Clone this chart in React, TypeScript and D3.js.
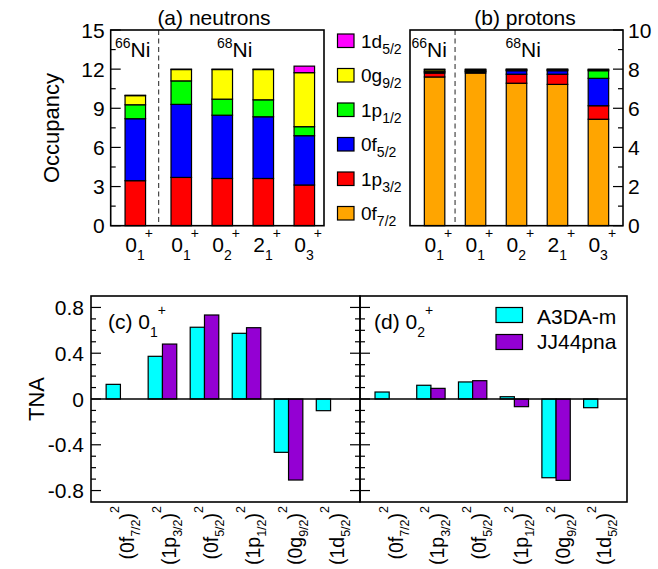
import React from 'react';
import * as d3 from 'd3';

const FONT = '"Liberation Sans", Arial, Helvetica, sans-serif';

// ---- Top panels: occupancies ----
const stateSpin = ['0', '0', '0', '2', '0'];
const stateIndex = ['1', '1', '2', '1', '3'];
const xPosN = [1.0, 2.12, 3.12, 4.12, 5.12];
const xPosP = [1, 2, 3, 4, 5];
const dividerN = 1.57;
const dividerP = 1.5;

const orbitalKeys = ['0f72', '1p32', '0f52', '1p12', '0g92', '1d52'];
const orbitalMain = ['0f', '1p', '0f', '1p', '0g', '1d'];
const orbitalSub = ['7/2', '3/2', '5/2', '1/2', '9/2', '5/2'];
const orbitalColors = ['#ffa500', '#ff0000', '#0000ff', '#00ff00', '#ffff00', '#ff00ff'];

const neut0f72 = [0, 0, 0, 0, 0];
const neut1p32 = [3.45, 3.7, 3.62, 3.62, 3.12];
const neut0f52 = [4.75, 5.6, 4.85, 4.73, 3.78];
const neut1p12 = [1.07, 1.8, 1.23, 1.3, 0.69];
const neut0g92 = [0.7, 0.87, 2.27, 2.32, 4.14];
const neut1d52 = [0.03, 0.03, 0.03, 0.03, 0.5];

const prot0f72 = [7.6, 7.8, 7.28, 7.22, 5.44];
const prot1p32 = [0.2, 0.06, 0.46, 0.52, 0.69];
const prot0f52 = [0.05, 0.03, 0.18, 0.18, 1.4];
const prot1p12 = [0.04, 0.03, 0.03, 0.03, 0.39];
const prot0g92 = [0.08, 0.06, 0.04, 0.04, 0.05];
const prot1d52 = [0.03, 0.02, 0.01, 0.01, 0.03];

const ticksN = [0, 3, 6, 9, 12, 15];
const ticksP = [0, 2, 4, 6, 8, 10];

// ---- Bottom panels: TNA ----
const tnaMain = ['0f', '1p', '0f', '1p', '0g', '1d'];
const tnaSub = ['7/2', '3/2', '5/2', '1/2', '9/2', '5/2'];
const tnaPos = [1, 2, 3, 4, 5, 6];
const tnaC_A3DA = [0.128, 0.373, 0.627, 0.574, -0.466, -0.102];
const tnaC_JJ44 = [0, 0.48, 0.734, 0.623, -0.708, 0];
const tnaD_A3DA = [0.061, 0.12, 0.149, 0.02, -0.688, -0.076];
const tnaD_JJ44 = [0, 0.093, 0.16, -0.067, -0.711, 0];
const tnaTicks = [-0.8, -0.4, 0, 0.4, 0.8];
const modelNames = ['A3DA-m', 'JJ44pna'];
const modelColors = ['#00ffff', '#9400d3'];

type Piece = { t: string; k?: 'sub' | 'sup' };

function Rich(props: {
  x?: number; y?: number; pieces: Piece[]; size: number; small?: number;
  subDy?: number; supDy?: number; anchor?: string; transform?: string;
}) {
  const { x = 0, y = 0, pieces, size, small = 14, subDy = 7, supDy = -14, anchor = 'start', transform } = props;
  let cur = 0;
  return (
    <text x={x} y={y} fontSize={size} textAnchor={anchor} transform={transform} fontFamily={FONT} fill="#000">
      {pieces.map((p, i) => {
        const target = p.k === 'sub' ? subDy : p.k === 'sup' ? supDy : 0;
        const dy = target - cur;
        cur = target;
        return (
          <tspan key={i} dy={dy} fontSize={p.k ? small : size}>
            {p.t}
          </tspan>
        );
      })}
    </text>
  );
}

function StackPanel(props: {
  x0: number; x1: number; y0: number; y1: number; yMax: number;
  pos: number[]; values: number[][]; divider: number; ticks: number[];
  minorStep: number; side: 'left' | 'right'; title: string; titleX: number;
  ni66x: number; ni68x: number;
}) {
  const { x0, x1, y0, y1, yMax, pos, values, divider, ticks, minorStep, side, title, titleX, ni66x, ni68x } = props;
  const x = d3.scaleLinear().domain([0.4, 5.6]).range([x0, x1]);
  const y = d3.scaleLinear().domain([0, yMax]).range([y1, y0]);
  const rows = pos.map((_, i) => {
    const r: Record<string, number> = {};
    orbitalKeys.forEach((k, j) => (r[k] = values[j][i]));
    return r;
  });
  const stacked = d3.stack<Record<string, number>>().keys(orbitalKeys)(rows);
  const bw = x(1.5) - x(1);
  const minor = d3.range(0, yMax + 1e-9, minorStep);
  const tx = side === 'left' ? x0 : x1;
  const dir = side === 'left' ? 1 : -1;
  return (
    <g>
      {stacked.map((s, j) =>
        s.map((d, i) =>
          d[1] - d[0] > 0 ? (
            <rect key={`${j}-${i}`} x={x(pos[i]) - bw / 2} width={bw} y={y(d[1])} height={y(d[0]) - y(d[1])}
              fill={orbitalColors[j]} stroke="#000" strokeWidth={1.2} />
          ) : null
        )
      )}
      <line x1={x(divider)} x2={x(divider)} y1={y0} y2={y1} stroke="#222" strokeWidth={1} strokeDasharray="5,3.5" />
      {minor.map((v) => {
        const major = ticks.some((t) => Math.abs(t - v) < 1e-6);
        return <line key={v} x1={tx} x2={tx + dir * (major ? 10 : 5)} y1={y(v)} y2={y(v)} stroke="#000" strokeWidth={1.2} />;
      })}
      {ticks.map((t) => (
        <text key={t} x={side === 'left' ? x0 - 6 : x1 + 5} y={y(t) + 7.5} fontSize={21} fontFamily={FONT}
          textAnchor={side === 'left' ? 'end' : 'start'}>{t}</text>
      ))}
      <rect x={x0} y={y0} width={x1 - x0} height={y1 - y0} fill="none" stroke="#000" strokeWidth={1.6} />
      {pos.map((p, i) => (
        <Rich key={i} x={x(p) - 10} y={252} size={21} small={14} subDy={8} supDy={-14}
          pieces={[{ t: stateSpin[i] }, { t: stateIndex[i], k: 'sub' }, { t: '+', k: 'sup' }]} />
      ))}
      <Rich x={ni66x} y={57} size={21} small={14} supDy={-9} pieces={[{ t: '66', k: 'sup' }, { t: 'Ni' }]} />
      <Rich x={ni68x} y={57} size={21} small={14} supDy={-9} pieces={[{ t: '68', k: 'sup' }, { t: 'Ni' }]} />
      <text x={titleX} y={25} fontSize={21} fontFamily={FONT} textAnchor="middle">{title}</text>
    </g>
  );
}

function TnaPanel(props: {
  x0: number; x1: number; y0: number; y1: number; a: number[]; b: number[];
  leftLabels: boolean; rightTicks: boolean; label: string; stateSub: string; labelX: number;
}) {
  const { x0, x1, y0, y1, a, b, leftLabels, rightTicks, label, stateSub, labelX } = props;
  const x = d3.scaleLinear().domain([0.3, 6.7]).range([x0, x1]);
  const y = d3.scaleLinear().domain([-0.9, 0.9]).range([y1, y0]);
  const bw = x(1.34) - x(1);
  const minor = d3.range(-8, 9).map((v) => v / 10);
  const tick = (xx: number, dir: number) =>
    minor.map((v) => {
      const major = tnaTicks.some((t) => Math.abs(t - v) < 1e-6);
      return <line key={`${xx}-${v}`} x1={xx} x2={xx + dir * (major ? 10 : 5)} y1={y(v)} y2={y(v)} stroke="#000" strokeWidth={1.2} />;
    });
  const bar = (v: number, left: number, color: string, key: string) =>
    v === 0 ? null : (
      <rect key={key} x={left} width={bw} y={y(Math.max(0, v))} height={Math.abs(y(v) - y(0))} fill={color} stroke="#000" strokeWidth={1.2} />
    );
  return (
    <g>
      {tnaPos.map((p, i) => (
        <g key={i}>
          {bar(a[i], x(p) - bw, modelColors[0], 'a')}
          {bar(b[i], x(p), modelColors[1], 'b')}
        </g>
      ))}
      <line x1={x0} x2={x1} y1={y(0)} y2={y(0)} stroke="#000" strokeWidth={1.5} />
      {tick(x0, 1)}
      {rightTicks ? tick(x1, -1) : null}
      {leftLabels
        ? tnaTicks.map((t) => (
            <text key={t} x={x0 - 7} y={y(t) + 7.5} fontSize={21} fontFamily={FONT} textAnchor="end">{t}</text>
          ))
        : null}
      <rect x={x0} y={y0} width={x1 - x0} height={y1 - y0} fill="none" stroke="#000" strokeWidth={1.6} />
      {tnaPos.map((p, i) => (
        <Rich key={i} transform={`translate(${x(p) + 13.5},506) rotate(-90)`} anchor="end" size={19.5} small={12.5}
          subDy={6} supDy={-15}
          pieces={[{ t: '(' + tnaMain[i] }, { t: tnaSub[i], k: 'sub' }, { t: ')' }, { t: '2', k: 'sup' }]} />
      ))}
      <Rich x={labelX} y={329} size={21} small={14} subDy={8} supDy={-14}
        pieces={[{ t: label + ' 0' }, { t: stateSub, k: 'sub' }, { t: '+', k: 'sup' }]} />
    </g>
  );
}

export default function App() {
  const neut = [neut0f72, neut1p32, neut0f52, neut1p12, neut0g92, neut1d52];
  const prot = [prot0f72, prot1p32, prot0f52, prot1p12, prot0g92, prot1d52];
  const legendOrder = d3.range(orbitalKeys.length).reverse();
  return (
    <svg width={658} height={569} style={{ position: 'absolute', left: 0, top: 0, background: '#fff' }}
      fontFamily={FONT}>
      <rect width={658} height={569} fill="#fff" />
      <StackPanel x0={110.7} x1={324} y0={30} y1={225.7} yMax={15} pos={xPosN} values={neut}
        divider={dividerN} ticks={ticksN} minorStep={1.5} side="left" title="(a) neutrons" titleX={214}
        ni66x={115} ni68x={217} />
      <StackPanel x0={410} x1={623} y0={30} y1={225.7} yMax={10} pos={xPosP} values={prot}
        divider={dividerP} ticks={ticksP} minorStep={1} side="right" title="(b) protons" titleX={525}
        ni66x={411.5} ni68x={505.5} />
      {legendOrder.map((j, r) => (
        <g key={j}>
          <rect x={337.5} y={34 + r * 34.5} width={16.5} height={13.5} fill={orbitalColors[j]} stroke="#000" strokeWidth={1.2} />
          <Rich x={361} y={47.5 + r * 34.5} size={19} small={14} subDy={6}
            pieces={[{ t: orbitalMain[j] }, { t: orbitalSub[j], k: 'sub' }]} />
        </g>
      ))}
      <text transform="translate(59,128) rotate(-90)" fontSize={22} fontFamily={FONT} textAnchor="middle">Occupancy</text>

      <TnaPanel x0={91} x1={360} y0={296} y1={502} a={tnaC_A3DA} b={tnaC_JJ44} leftLabels rightTicks
        label="(c)" stateSub="1" labelX={108} />
      <TnaPanel x0={360} x1={627} y0={296} y1={502} a={tnaD_A3DA} b={tnaD_JJ44} leftLabels={false} rightTicks={false}
        label="(d)" stateSub="2" labelX={374} />
      <text transform="translate(44,399) rotate(-90)" fontSize={22} fontFamily={FONT} textAnchor="middle">TNA</text>
      {modelNames.map((m, i) => (
        <g key={m}>
          <rect x={496} y={307.5 + i * 27} width={26.5} height={15} fill={modelColors[i]} stroke="#000" strokeWidth={1.2} />
          <text x={537} y={324 + i * 25} fontSize={21} fontFamily={FONT}>{m}</text>
        </g>
      ))}
    </svg>
  );
}
